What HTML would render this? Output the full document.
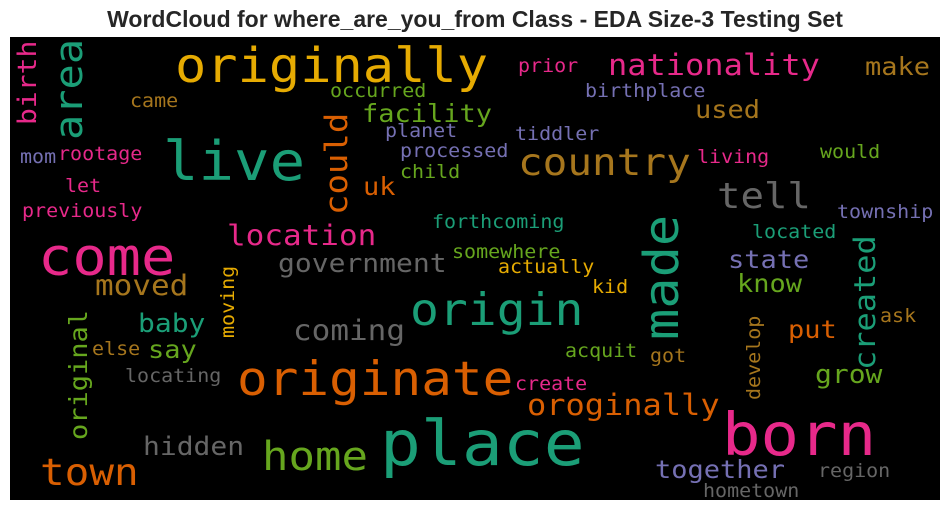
<!DOCTYPE html>
<html><head><meta charset="utf-8"><style>
body{margin:0;background:#fff;width:950px;height:511px;overflow:hidden}
svg text.w{font-family:"DejaVu Sans Mono","Liberation Mono",monospace}
</style></head><body>
<svg width="950" height="511">
<text x="475" y="27" text-anchor="middle" font-family="Liberation Sans, Arial, sans-serif" font-weight="bold" font-size="23" fill="#262626">WordCloud for where_are_you_from Class - EDA Size-3 Testing Set</text>
<rect x="10" y="37" width="930" height="463" fill="#000"/>
<g id="words"></g>
</svg>
<script>
const T='#1b9e77',O='#d95f02',P='#7570b3',K='#e7298a',G='#66a61e',Y='#e6ab02',B='#a6761d',R='#666666';
const words=[
["originally",175,82,52,Y,0],["live",163,180,59,T,0],["come",38,275,57,K,0],["place",380,465,68,T,0],
["born",722,455,64,K,0],["originate",237,395,51,O,0],["origin",410,325,48,T,0],["made",678,340,52,T,1],
["area",82,140,42,T,1],["country",518,175,41,B,0],["tell",717,208,39,R,0],["nationality",608,75,32,K,0],
["make",865,75,27,B,0],["home",262,470,44,G,0],["town",40,485,41,O,0],["hidden",143,455,28,R,0],
["together",655,478,27,P,0],["hometown",703,497,20,R,0],["region",818,477,20,R,0],["oroginally",527,415,32,O,0],
["create",515,390,20,K,0],["acquit",565,357,20,G,0],["got",650,362,20,B,0],["develop",760,400,20,B,1],
["grow",815,383,28,G,0],["ask",880,322,20,B,0],["created",875,370,32,T,1],["put",788,338,27,O,0],
["know",737,292,27,G,0],["state",728,268,27,P,0],["located",752,238,20,T,0],["township",837,218,20,P,0],
["would",820,158,20,G,0],["living",697,163,20,K,0],["used",695,118,27,B,0],["birthplace",585,97,20,P,0],
["prior",518,72,20,K,0],["tiddler",515,140,20,P,0],["processed",400,157,20,P,0],["child",400,178,20,G,0],
["planet",385,137,20,P,0],["occurred",330,97,20,G,0],["facility",362,122,27,G,0],["could",347,215,34,O,1],
["uk",363,195,27,O,0],["location",227,245,31,K,0],["government",278,272,28,R,0],["forthcoming",432,228,20,T,0],
["somewhere",452,258,20,G,0],["actually",498,273,20,Y,0],["kid",592,293,20,Y,0],["moving",234,338,20,Y,1],
["moved",95,295,31,B,0],["baby",138,332,28,T,0],["say",148,358,27,G,0],["coming",293,340,31,R,0],
["original",87,440,27,G,1],["else",92,355,20,B,0],["locating",125,382,20,R,0],["birth",36,125,28,K,1],
["came",130,107,20,B,0],["mom",20,163,20,P,0],["rootage",58,160,20,K,0],["let",65,192,20,K,0],["previously",22,217,20,K,0]
];
const g=document.getElementById('words');
words.forEach(w=>{
 const t=document.createElementNS('http://www.w3.org/2000/svg','text');
 t.setAttribute('class','w');
 t.setAttribute('font-size',(w[3]*0.92).toFixed(1));t.setAttribute('fill',w[4]);
 t.setAttribute('textLength',(w[0].length*w[3]*0.602).toFixed(1));
 t.setAttribute('lengthAdjust','spacingAndGlyphs');
 if(w[5]){t.setAttribute('transform',`translate(${w[1]},${w[2]}) rotate(-90)`);}
 else{t.setAttribute('x',w[1]);t.setAttribute('y',w[2]);}
 t.textContent=w[0];
 
 
 g.appendChild(t);
});
</script>
</body></html>
